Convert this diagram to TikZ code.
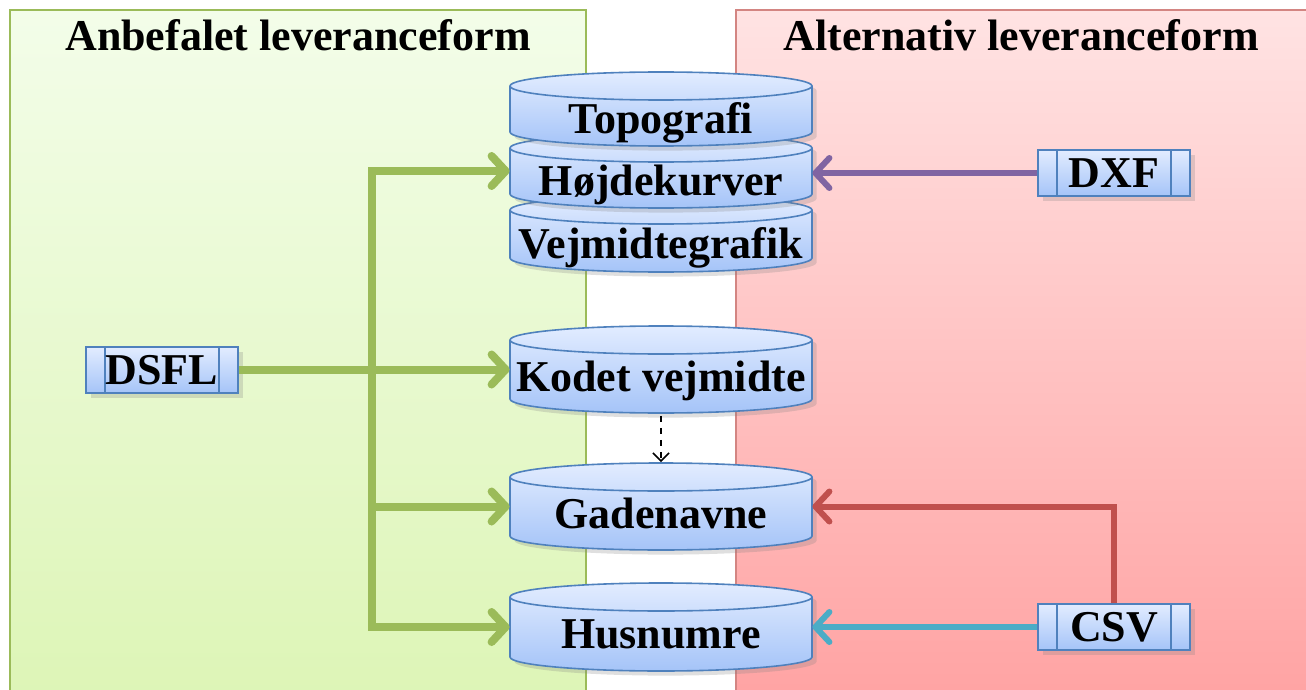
\documentclass[tikz,border=0pt]{standalone}
\usepackage{fontspec}
\setmainfont{Liberation Serif}
\usetikzlibrary{arrows.meta,shadows}

\definecolor{lineblue}{HTML}{4F81BD}
\definecolor{boxtop}{HTML}{E2ECFF}
\definecolor{boxbot}{HTML}{A5C4F8}
\definecolor{okgreen}{HTML}{9BBB59}
\definecolor{altred}{HTML}{C0504D}
\definecolor{dxfpurple}{HTML}{8064A2}
\definecolor{csvcyan}{HTML}{4BACC6}
\definecolor{greentop}{HTML}{F3FDE9}
\definecolor{greenbot}{HTML}{DDF5B6}
\definecolor{redtop}{HTML}{FFE3E3}
\definecolor{redbot}{HTML}{FFA3A3}

% database drum between a top and a bottom y (in px)
\newcommand{\drum}[2]{%
  \draw[lineblue, thick, top color=boxtop, bottom color=boxbot, drop shadow={opacity=0.25}]
    (510,{#1+14}) -- (510,{#2-14})
    arc[start angle=180, end angle=0, x radius=151, y radius=14]
    -- (812,{#1+14})
    arc[start angle=0, end angle=-180, x radius=151, y radius=14] -- cycle;
  \draw[lineblue, thick] (510,{#1+14})
    arc[start angle=180, end angle=0, x radius=151, y radius=14];
}

\tikzset{
  lbl/.style={font=\fontsize{22}{25}\selectfont\bfseries},
  dbtext/.style={lbl, rectangle, minimum width=151pt, inner sep=0pt,
    text height=21.5pt, text depth=0pt},
  layertext/.style={dbtext, text height=24.5pt},
  fmt/.style={lbl, rectangle, draw=lineblue, thick, top color=boxtop, bottom color=boxbot,
    minimum width=76pt, minimum height=23pt, inner sep=0pt, drop shadow={opacity=0.25},
    path picture={
      \draw[lineblue, thick] ([xshift=9.5pt]path picture bounding box.north west)
        -- ([xshift=9.5pt]path picture bounding box.south west);
      \draw[lineblue, thick] ([xshift=-9.5pt]path picture bounding box.north east)
        -- ([xshift=-9.5pt]path picture bounding box.south east);}},
  feed/.style={line width=4pt, -{Straight Barb[length=7pt, width=15pt, round]}},
}

\begin{document}
\begin{tikzpicture}[x=0.5pt, y=-0.5pt]
\useasboundingbox (0,0) rectangle (1306,690);

% panels
\draw[okgreen, thick, top color=greentop, bottom color=greenbot] (10,10) rectangle (586,700);
\draw[altred!70, thick, top color=redtop, bottom color=redbot] (736,10) rectangle (1320,700);
\node[lbl] (anbef) at (298,35) {Anbefalet leveranceform};
\node[lbl] (altern) at (1021,35) {Alternativ leveranceform};

% databases
\drum{196}{272}
\node[layertext, minimum height=24pt] (vejgraf) at (661,234) {Vejmidtegrafik};
\drum{134}{208}
\node[layertext, minimum height=23pt] (hojde) at (661,171) {Højdekurver};
\drum{72}{146}
\node[layertext, minimum height=23pt] (topo) at (661,109) {Topografi};
\drum{326}{413}
\node[dbtext, minimum height=30pt] (kodet) at (661,369.5) {Kodet vejmidte};
\drum{463}{550}
\node[dbtext, minimum height=30pt] (gaden) at (661,506.5) {Gadenavne};
\drum{583}{671}
\node[dbtext, minimum height=30pt] (husnr) at (661,627) {Husnumre};

% formats
\node[fmt] (dsfl) at (162,370) {DSFL};
\node[fmt] (dxf) at (1114,173) {DXF};
\node[fmt] (csv) at (1114,627) {CSV};

\coordinate (trunk) at (372,370);
\draw[okgreen, line width=4pt,
  preaction={draw=black, opacity=0.55, transform canvas={yshift=-1.5pt}}]
  (dsfl.east) -- (trunk);
\foreach \t in {hojde,kodet,gaden,husnr}
  \draw[feed, okgreen] (trunk) |- (\t.west);

\draw[feed, dxfpurple, line width=3pt] (dxf.west) -- (dxf.west -| hojde.east);
\draw[feed, altred, line width=3pt] (csv.north) |- (gaden.east);
\draw[feed, csvcyan, line width=3pt] (csv.west) -- (csv.west -| husnr.east);

\draw[dashed, line width=0.8pt, -{Straight Barb[length=4pt, width=8pt]}]
  ([yshift=-8pt]kodet.south) -- ([yshift=7pt]gaden.north);

\end{tikzpicture}
\end{document}
